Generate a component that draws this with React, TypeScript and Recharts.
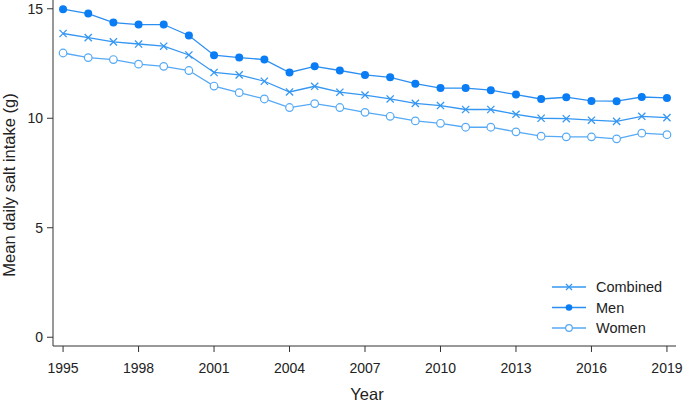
import React from "react";
import { LineChart, Line, XAxis, YAxis, Label } from "recharts";

const YEARS = [
  1995, 1996, 1997, 1998, 1999, 2000, 2001, 2002, 2003, 2004, 2005, 2006,
  2007, 2008, 2009, 2010, 2011, 2012, 2013, 2014, 2015, 2016, 2017, 2018, 2019,
];
const COMBINED = [
  13.87, 13.68, 13.49, 13.39, 13.29, 12.89, 12.09, 11.98, 11.69, 11.2, 11.46,
  11.19, 11.06, 10.88, 10.68, 10.58, 10.4, 10.4, 10.18, 10.0, 9.98, 9.91, 9.86,
  10.09, 10.03,
];
const MEN = [
  14.98, 14.78, 14.37, 14.28, 14.28, 13.78, 12.88, 12.77, 12.68, 12.09, 12.37,
  12.18, 11.98, 11.87, 11.58, 11.38, 11.38, 11.28, 11.08, 10.88, 10.96, 10.79,
  10.78, 10.97, 10.93,
];
const WOMEN = [
  12.98, 12.77, 12.68, 12.47, 12.37, 12.18, 11.47, 11.17, 10.88, 10.49, 10.67,
  10.49, 10.27, 10.09, 9.88, 9.77, 9.59, 9.59, 9.38, 9.18, 9.15, 9.15, 9.06,
  9.32, 9.25,
];
const X_TICKS = [1995, 1998, 2001, 2004, 2007, 2010, 2013, 2016, 2019];
const Y_TICKS = [0, 5, 10, 15];

const data = YEARS.map((year, i) => ({
  year,
  combined: COMBINED[i],
  men: MEN[i],
  women: WOMEN[i],
}));

const FONT = "'Liberation Sans', Arial, sans-serif";
const C_COMBINED = "#3597f2";
const C_MEN = "#2a8ef2";
const C_MEN_DOT = "#0a7cf4";
const C_WOMEN = "#55a9f5";

const CrossDot = (props: any) => {
  const { cx, cy } = props;
  if (cx == null || cy == null) return null;
  const s = 3.6;
  return (
    <g stroke={C_COMBINED} strokeWidth={1.3}>
      <line x1={cx - s} y1={cy - s} x2={cx + s} y2={cy + s} />
      <line x1={cx - s} y1={cy + s} x2={cx + s} y2={cy - s} />
    </g>
  );
};

const LEGEND_ITEMS = [
  { name: "Combined", color: C_COMBINED, kind: "cross" },
  { name: "Men", color: C_MEN, kind: "filled" },
  { name: "Women", color: C_WOMEN, kind: "open" },
];

// drawn as an overlay so it takes no room from the plot
const LegendBox = () => (
  <svg
    width={140}
    height={70}
    style={{ position: "absolute", left: 550, top: 277, display: "block" }}
  >
    {LEGEND_ITEMS.map((it, i) => {
      const y = 10 + i * 20.5;
      return (
        <g key={it.name}>
          <line x1={2} x2={36} y1={y} y2={y} stroke={it.color} strokeWidth={1.3} />
          {it.kind === "cross" && (
            <g stroke={it.color} strokeWidth={1.2}>
              <line x1={16} y1={y - 3} x2={22} y2={y + 3} />
              <line x1={16} y1={y + 3} x2={22} y2={y - 3} />
            </g>
          )}
          {it.kind === "filled" && <circle cx={19} cy={y} r={3.3} fill={C_MEN_DOT} />}
          {it.kind === "open" && (
            <circle cx={19} cy={y} r={3.3} fill="#fff" stroke={it.color} strokeWidth={1.2} />
          )}
          <text x={46} y={y + 5} fontSize={14.5} fontFamily={FONT} fill="#222">
            {it.name}
          </text>
        </g>
      );
    })}
  </svg>
);

export default function App() {
  const tick = { fill: "#222", fontSize: 14, fontFamily: FONT };
  return (
    <div style={{ position: "absolute", left: 0, top: 0, width: 685, height: 402, background: "#fff" }}>
      <LineChart
        width={685}
        height={402}
        data={data}
        margin={{ top: 0, right: 9, bottom: 0, left: 0 }}
      >
        <XAxis
          dataKey="year"
          type="number"
          domain={[1994.6, 2019.36]}
          ticks={X_TICKS}
          allowDataOverflow
          height={56}
          tick={tick}
          tickSize={6}
          tickMargin={11}
          stroke="#333"
        >
          <Label
            content={() => (
              <text x={367} y={400} textAnchor="middle" fontSize={16.5} fontFamily={FONT} fill="#222">
                Year
              </text>
            )}
          />
        </XAxis>
        <YAxis
          type="number"
          domain={[-0.4, 15.4]}
          ticks={Y_TICKS}
          allowDataOverflow
          width={53}
          tick={tick}
          tickSize={6}
          tickMargin={4}
          stroke="#333"
        >
          <Label
            content={() => (
              <text
                transform="translate(15,185) rotate(-90)"
                textAnchor="middle"
                fontSize={16.5}
                fontFamily={FONT}
                fill="#222"
              >
                Mean daily salt intake (g)
              </text>
            )}
          />
        </YAxis>
        <Line
          dataKey="combined"
          name="Combined"
          stroke={C_COMBINED}
          strokeWidth={1.3}
          dot={<CrossDot />}
          activeDot={false}
          isAnimationActive={false}
        />
        <Line
          dataKey="men"
          name="Men"
          stroke={C_MEN}
          strokeWidth={1.3}
          dot={{ r: 4, fill: C_MEN_DOT, stroke: C_MEN_DOT, strokeWidth: 0 }}
          activeDot={false}
          isAnimationActive={false}
        />
        <Line
          dataKey="women"
          name="Women"
          stroke={C_WOMEN}
          strokeWidth={1.3}
          dot={{ r: 3.8, fill: "#fff", stroke: C_WOMEN, strokeWidth: 1.2 }}
          activeDot={false}
          isAnimationActive={false}
        />
      </LineChart>
      <LegendBox />
    </div>
  );
}
